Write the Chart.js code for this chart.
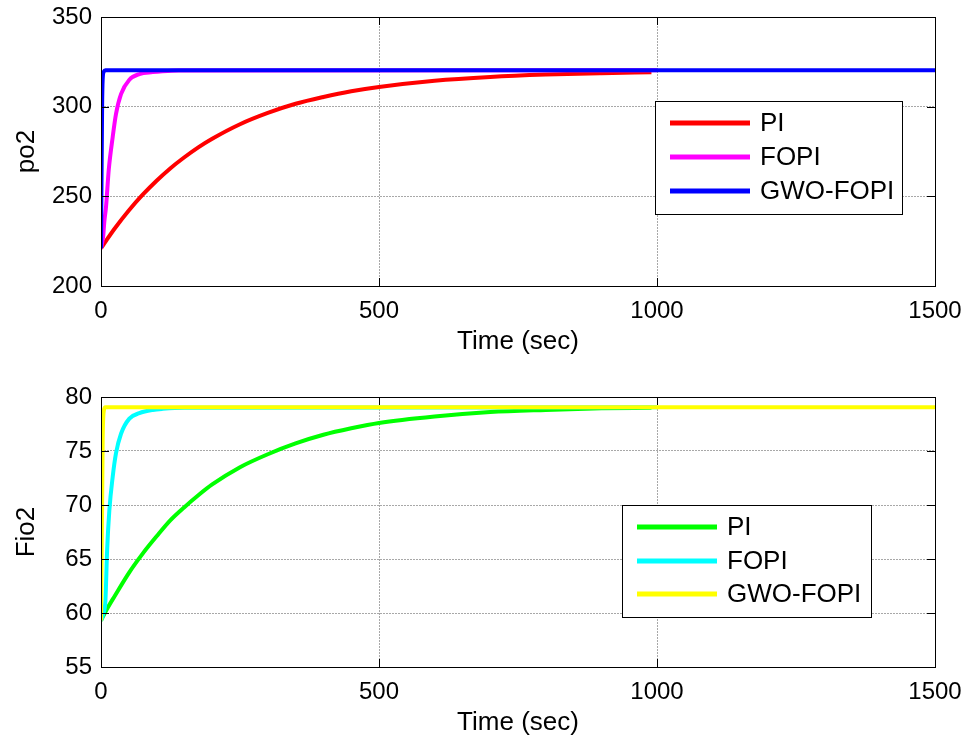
<!DOCTYPE html>
<html>
<head>
<meta charset="utf-8">
<script src="https://cdn.jsdelivr.net/npm/chart.js@4.4.1/dist/chart.umd.min.js"></script>
<style>
  body { margin: 0; background: #fff; }
  canvas { position: absolute; left: 0; }
  #top { top: 0; }
  #bottom { top: 371px; }
</style>
</head>
<body>
<canvas id="top" width="966" height="371"></canvas>
<canvas id="bottom" width="966" height="371"></canvas>
<script>
// values (time in sec)
var labels = ['PI', 'FOPI', 'GWO-FOPI'];

var t_pi = [0, 10, 25, 50, 75, 100, 125, 150, 175, 200, 250, 300, 350, 400, 450, 500, 600, 700, 800, 900, 990];
var po2_pi = [221, 225.6, 232.2, 242.1, 250.9, 258.7, 265.7, 271.8, 277.3, 282.1, 290.2, 296.5, 301.6, 305.4, 308.6, 311, 314.5, 316.6, 317.9, 318.7, 319.2];
var t_fopi = [0, 4, 6, 9, 14, 21, 27, 36, 51, 69, 93, 111, 140, 1000];
var po2_fopi = [221, 228, 236, 244, 265, 283, 296, 307, 315, 318.2, 319.3, 319.8, 320.2, 320.3];
var t_gwo = [0, 2, 3, 5, 8, 1500];
var po2_gwo = [221, 300, 315, 319.5, 320.3, 320.3];

var fio2_pi = [59.3, 60.3, 61.6, 63.7, 65.5, 67.1, 68.6, 69.8, 70.9, 71.9, 73.5, 74.7, 75.7, 76.5, 77.1, 77.6, 78.2, 78.6, 78.8, 78.95, 79.0];
var t_fopi2 = [0, 4, 8, 11, 15, 21, 27, 36, 51, 69, 93, 111, 150, 1000];
var fio2_fopi = [59.3, 59.9, 61.2, 65.8, 69.5, 72.6, 74.8, 76.6, 78.0, 78.5, 78.8, 78.9, 79.0, 79.05];
var t_gwo2 = [0, 2, 3, 5, 8, 1500];
var fio2_gwo = [59.3, 70, 76, 78.7, 79.05, 79.05];

var x_ticks = [0, 500, 1000, 1500];

function pts(xs, ys) {
    var out = [];
    for (let i = 0; i < xs.length; i++) {
        out.push({x: xs[i], y: ys[i]});
    }
    return out;
}

var font = "'Liberation Sans', Arial, Helvetica, sans-serif";

// matlab style frame, inward ticks and boxed legend
var matlabBox = {
    id: 'matlabBox',
    afterDatasetsDraw(chart, args, opts) {
        var ctx = chart.ctx;
        var a = chart.chartArea;
        var x = chart.scales.x, y = chart.scales.y;
        ctx.save();
        ctx.strokeStyle = '#000';
        ctx.lineWidth = 1;
        ctx.strokeRect(Math.round(a.left) + 0.5, Math.round(a.top) + 0.5,
            Math.round(a.right - a.left), Math.round(a.bottom - a.top));
        ctx.beginPath();
        x.ticks.forEach(function (t) {
            var px = Math.round(x.getPixelForValue(t.value)) + 0.5;
            ctx.moveTo(px, a.bottom); ctx.lineTo(px, a.bottom - 8);
            ctx.moveTo(px, a.top); ctx.lineTo(px, a.top + 8);
        });
        y.ticks.forEach(function (t) {
            var py = Math.round(y.getPixelForValue(t.value)) + 0.5;
            ctx.moveTo(a.left, py); ctx.lineTo(a.left + 8, py);
            ctx.moveTo(a.right, py); ctx.lineTo(a.right - 8, py);
        });
        ctx.stroke();

        // legend
        var b = opts.box;
        ctx.fillStyle = '#fff';
        ctx.fillRect(b.left, b.top, b.width, b.height);
        ctx.strokeRect(b.left + 0.5, b.top + 0.5, b.width, b.height);
        ctx.font = '26px ' + font;
        ctx.textBaseline = 'middle';
        ctx.textAlign = 'left';
        chart.data.datasets.forEach(function (ds, i) {
            var ry = b.top + b.rows[i];
            ctx.strokeStyle = ds.borderColor;
            ctx.lineWidth = 5;
            ctx.beginPath();
            ctx.moveTo(b.left + 15, ry);
            ctx.lineTo(b.left + 95, ry);
            ctx.stroke();
            ctx.fillStyle = '#000';
            ctx.fillText(ds.label, b.left + 105, ry + 1);
        });
        ctx.restore();
    }
};

function make_chart(id, series, colors, ymin, ymax, ystep, ytitle, pad, xh, titlePad, box) {
    var datasets = [];
    for (let i = 0; i < series.length; i++) {
        datasets.push({
            label: labels[i],
            data: series[i],
            borderColor: colors[i],
            borderWidth: 4,
            pointRadius: 0,
            fill: false,
            cubicInterpolationMode: 'monotone',
            order: series.length - i
        });
    }
    return new Chart(document.getElementById(id), {
        type: 'line',
        data: {datasets: datasets},
        options: {
            responsive: false,
            animation: false,
            devicePixelRatio: 1,
            layout: {padding: {top: pad, right: 31, left: 0, bottom: 0}},
            plugins: {
                legend: {display: false},
                tooltip: {enabled: false},
                matlabBox: {box: box}
            },
            scales: {
                x: {
                    type: 'linear',
                    min: 0, max: 1500,
                    afterBuildTicks: function (s) { s.ticks = x_ticks.map(function (v) { return {value: v}; }); },
                    afterFit: function (s) {
                        s.height = xh;
                        s.paddingLeft = 0; s.paddingRight = 0;
                    },
                    ticks: {
                        color: '#000', font: {family: font, size: 24}, padding: 11,
                        maxRotation: 0, autoSkip: false,
                        callback: function (v) { return String(v); }
                    },
                    grid: {color: '#a8a8a8', lineWidth: 1, drawTicks: false},
                    border: {display: false, dash: [2, 1]},
                    title: {display: true, text: 'Time (sec)', color: '#000',
                        font: {family: font, size: 26}, padding: {top: 0, bottom: titlePad}}
                },
                y: {
                    min: ymin, max: ymax,
                    afterFit: function (s) {
                        s.width = 101;
                        s.paddingTop = 0; s.paddingBottom = 0;
                    },
                    ticks: {
                        stepSize: ystep, color: '#000', font: {family: font, size: 24}, padding: 9,
                        callback: function (v) { return String(v); }
                    },
                    grid: {color: '#a8a8a8', lineWidth: 1, drawTicks: false},
                    border: {display: false, dash: [2, 1]},
                    title: {display: true, text: ytitle, color: '#000',
                        font: {family: font, size: 26}, padding: {top: 11, bottom: 0}}
                }
            }
        },
        plugins: [matlabBox]
    });
}

make_chart('top',
    [pts(t_pi, po2_pi), pts(t_fopi, po2_fopi), pts(t_gwo, po2_gwo)],
    ['#ff0000', '#ff00ff', '#0000ff'],
    200, 350, 50, 'po2', 17, 85, 14,
    {left: 655, top: 101, width: 247, height: 113, rows: [22, 56, 90]});

make_chart('bottom',
    [pts(t_pi, fio2_pi), pts(t_fopi2, fio2_fopi), pts(t_gwo2, fio2_gwo)],
    ['#00ff00', '#00ffff', '#ffff00'],
    55, 80, 5, 'Fio2', 26, 75, 4,
    {left: 622, top: 134, width: 249, height: 112, rows: [22, 56, 89]});
</script>
</body>
</html>
